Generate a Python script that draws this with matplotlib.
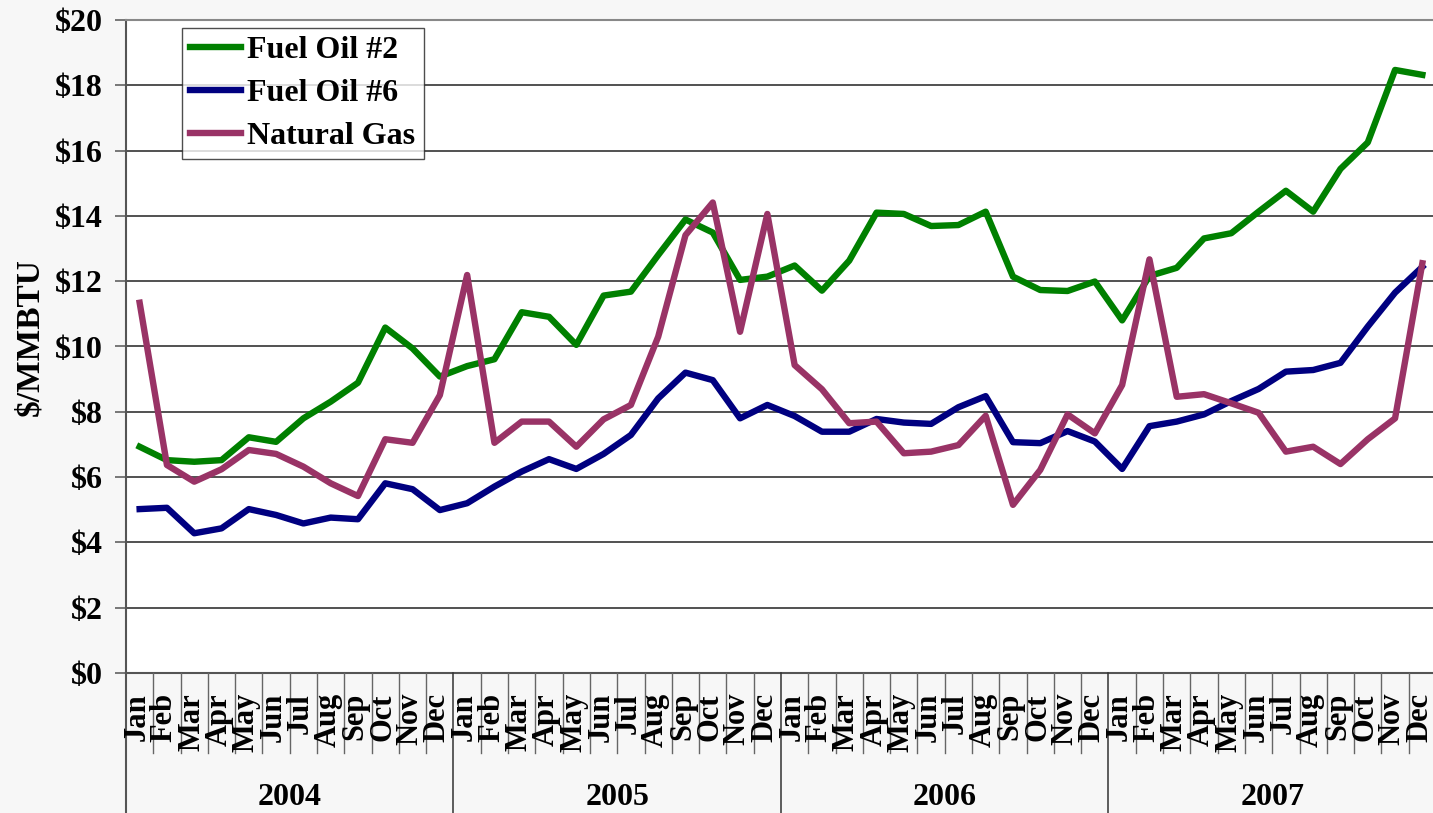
import matplotlib
matplotlib.use("Agg")
import matplotlib.pyplot as plt
import matplotlib.transforms as mtransforms

months = ["Jan", "Feb", "Mar", "Apr", "May", "Jun", "Jul", "Aug", "Sep", "Oct", "Nov", "Dec"]
years = ["2004", "2005", "2006", "2007"]

fuel_oil_2 = [6.93, 6.52, 6.47, 6.52, 7.22, 7.08, 7.80, 8.31, 8.89, 10.58, 9.94, 9.08,
              9.40, 9.61, 11.05, 10.91, 10.05, 11.56, 11.68, 12.80, 13.89, 13.49, 12.04, 12.14,
              12.48, 11.71, 12.63, 14.10, 14.06, 13.69, 13.72, 14.13, 12.14, 11.73, 11.70, 11.99,
              10.80, 12.16, 12.41, 13.31, 13.47, 14.13, 14.77, 14.13, 15.44, 16.25, 18.47, 18.32]
fuel_oil_6 = [5.02, 5.06, 4.28, 4.43, 5.02, 4.84, 4.58, 4.76, 4.71, 5.81, 5.63, 4.99,
              5.20, 5.71, 6.17, 6.55, 6.25, 6.71, 7.29, 8.41, 9.20, 8.97, 7.80, 8.21,
              7.87, 7.39, 7.39, 7.78, 7.67, 7.63, 8.14, 8.48, 7.07, 7.04, 7.41, 7.09,
              6.25, 7.56, 7.70, 7.92, 8.33, 8.70, 9.23, 9.28, 9.50, 10.61, 11.65, 12.44]
natural_gas = [11.34, 6.37, 5.86, 6.24, 6.83, 6.71, 6.32, 5.81, 5.42, 7.16, 7.05, 8.51,
               12.19, 7.05, 7.70, 7.70, 6.93, 7.77, 8.21, 10.30, 13.41, 14.41, 10.45, 14.06,
               9.43, 8.69, 7.65, 7.70, 6.73, 6.78, 6.98, 7.88, 5.15, 6.22, 7.92, 7.34,
               8.82, 12.67, 8.46, 8.54, 8.26, 7.97, 6.78, 6.93, 6.40, 7.16, 7.80, 12.55]

plt.rcParams["font.family"] = ["Liberation Serif", "DejaVu Serif"]
plt.rcParams["font.weight"] = "bold"

fig = plt.figure(figsize=(14.33, 8.13), dpi=100, facecolor="#f7f7f7")
ax = fig.add_axes([126 / 1433, 140 / 813, 1310 / 1433, 653 / 813])
ax.set_facecolor("white")

x = list(range(len(fuel_oil_2)))
ax.plot(x, fuel_oil_2, color="#008000", lw=4.6, label="Fuel Oil #2")
ax.plot(x, fuel_oil_6, color="#000080", lw=4.6, label="Fuel Oil #6")
ax.plot(x, natural_gas, color="#993366", lw=4.6, label="Natural Gas")

ax.set_xlim(-0.5, len(x) - 0.5)
ax.set_ylim(0, 20)
ax.set_yticks(range(0, 21, 2))
ax.set_yticklabels(["$" + str(v) for v in range(0, 21, 2)], fontsize=23, fontweight="bold")
ax.yaxis.grid(True, color="#222222", lw=1.1)
ax.set_axisbelow(True)
ax.tick_params(axis="y", length=8, width=1.1, color="#555555", pad=9)
ax.set_xticks([])
for s in ["right", "bottom"]:
    ax.spines[s].set_visible(False)
ax.spines["top"].set_color("#888888")
ax.spines["top"].set_linewidth(1.5)
ax.spines["left"].set_color("#555555")
ax.spines["left"].set_linewidth(1.5)

ax.set_ylabel("$/MMBTU", fontsize=24, fontweight="bold")
ax.yaxis.set_label_coords(-0.062, 0.515)

# category axis below the plot
trans = mtransforms.blended_transform_factory(ax.transData, ax.transAxes)
ax.plot([-0.5, len(x) - 0.5], [0, 0], color="#555555", lw=1.5, transform=trans, clip_on=False)
bottom_px = -140 / 653
for i in range(len(x)):
    ax.text(i - 0.1, -20 / 653, months[i % 12], rotation=90, ha="center", va="top",
            fontsize=22, fontweight="bold", transform=trans, clip_on=False)
    if i % 12 != 0:
        ax.plot([i - 0.5, i - 0.5], [0, -80 / 653], color="#666666", lw=1, transform=trans, clip_on=False)
for j, yr in enumerate(years):
    ax.plot([j * 12 - 0.5, j * 12 - 0.5], [0, bottom_px], color="#333333" if j else "#555555",
            lw=1.5 if j == 0 else 1.1, transform=trans, clip_on=False)
    ax.text(j * 12 + 5.5, -124 / 653, yr, ha="center", va="center", fontsize=23,
            fontweight="bold", transform=trans, clip_on=False)

leg = ax.legend(loc="upper left", bbox_to_anchor=(56 / 1310, 1 - 8 / 653), fontsize=23,
                frameon=True, fancybox=False, handlelength=1.6, handletextpad=0.2,
                borderpad=0.25, labelspacing=0.42, borderaxespad=0)
leg.get_frame().set_edgecolor("#222222")
leg.get_frame().set_linewidth(1)
for t in leg.get_texts():
    t.set_fontweight("bold")

fig.savefig("out.png", dpi=100, facecolor=fig.get_facecolor())
